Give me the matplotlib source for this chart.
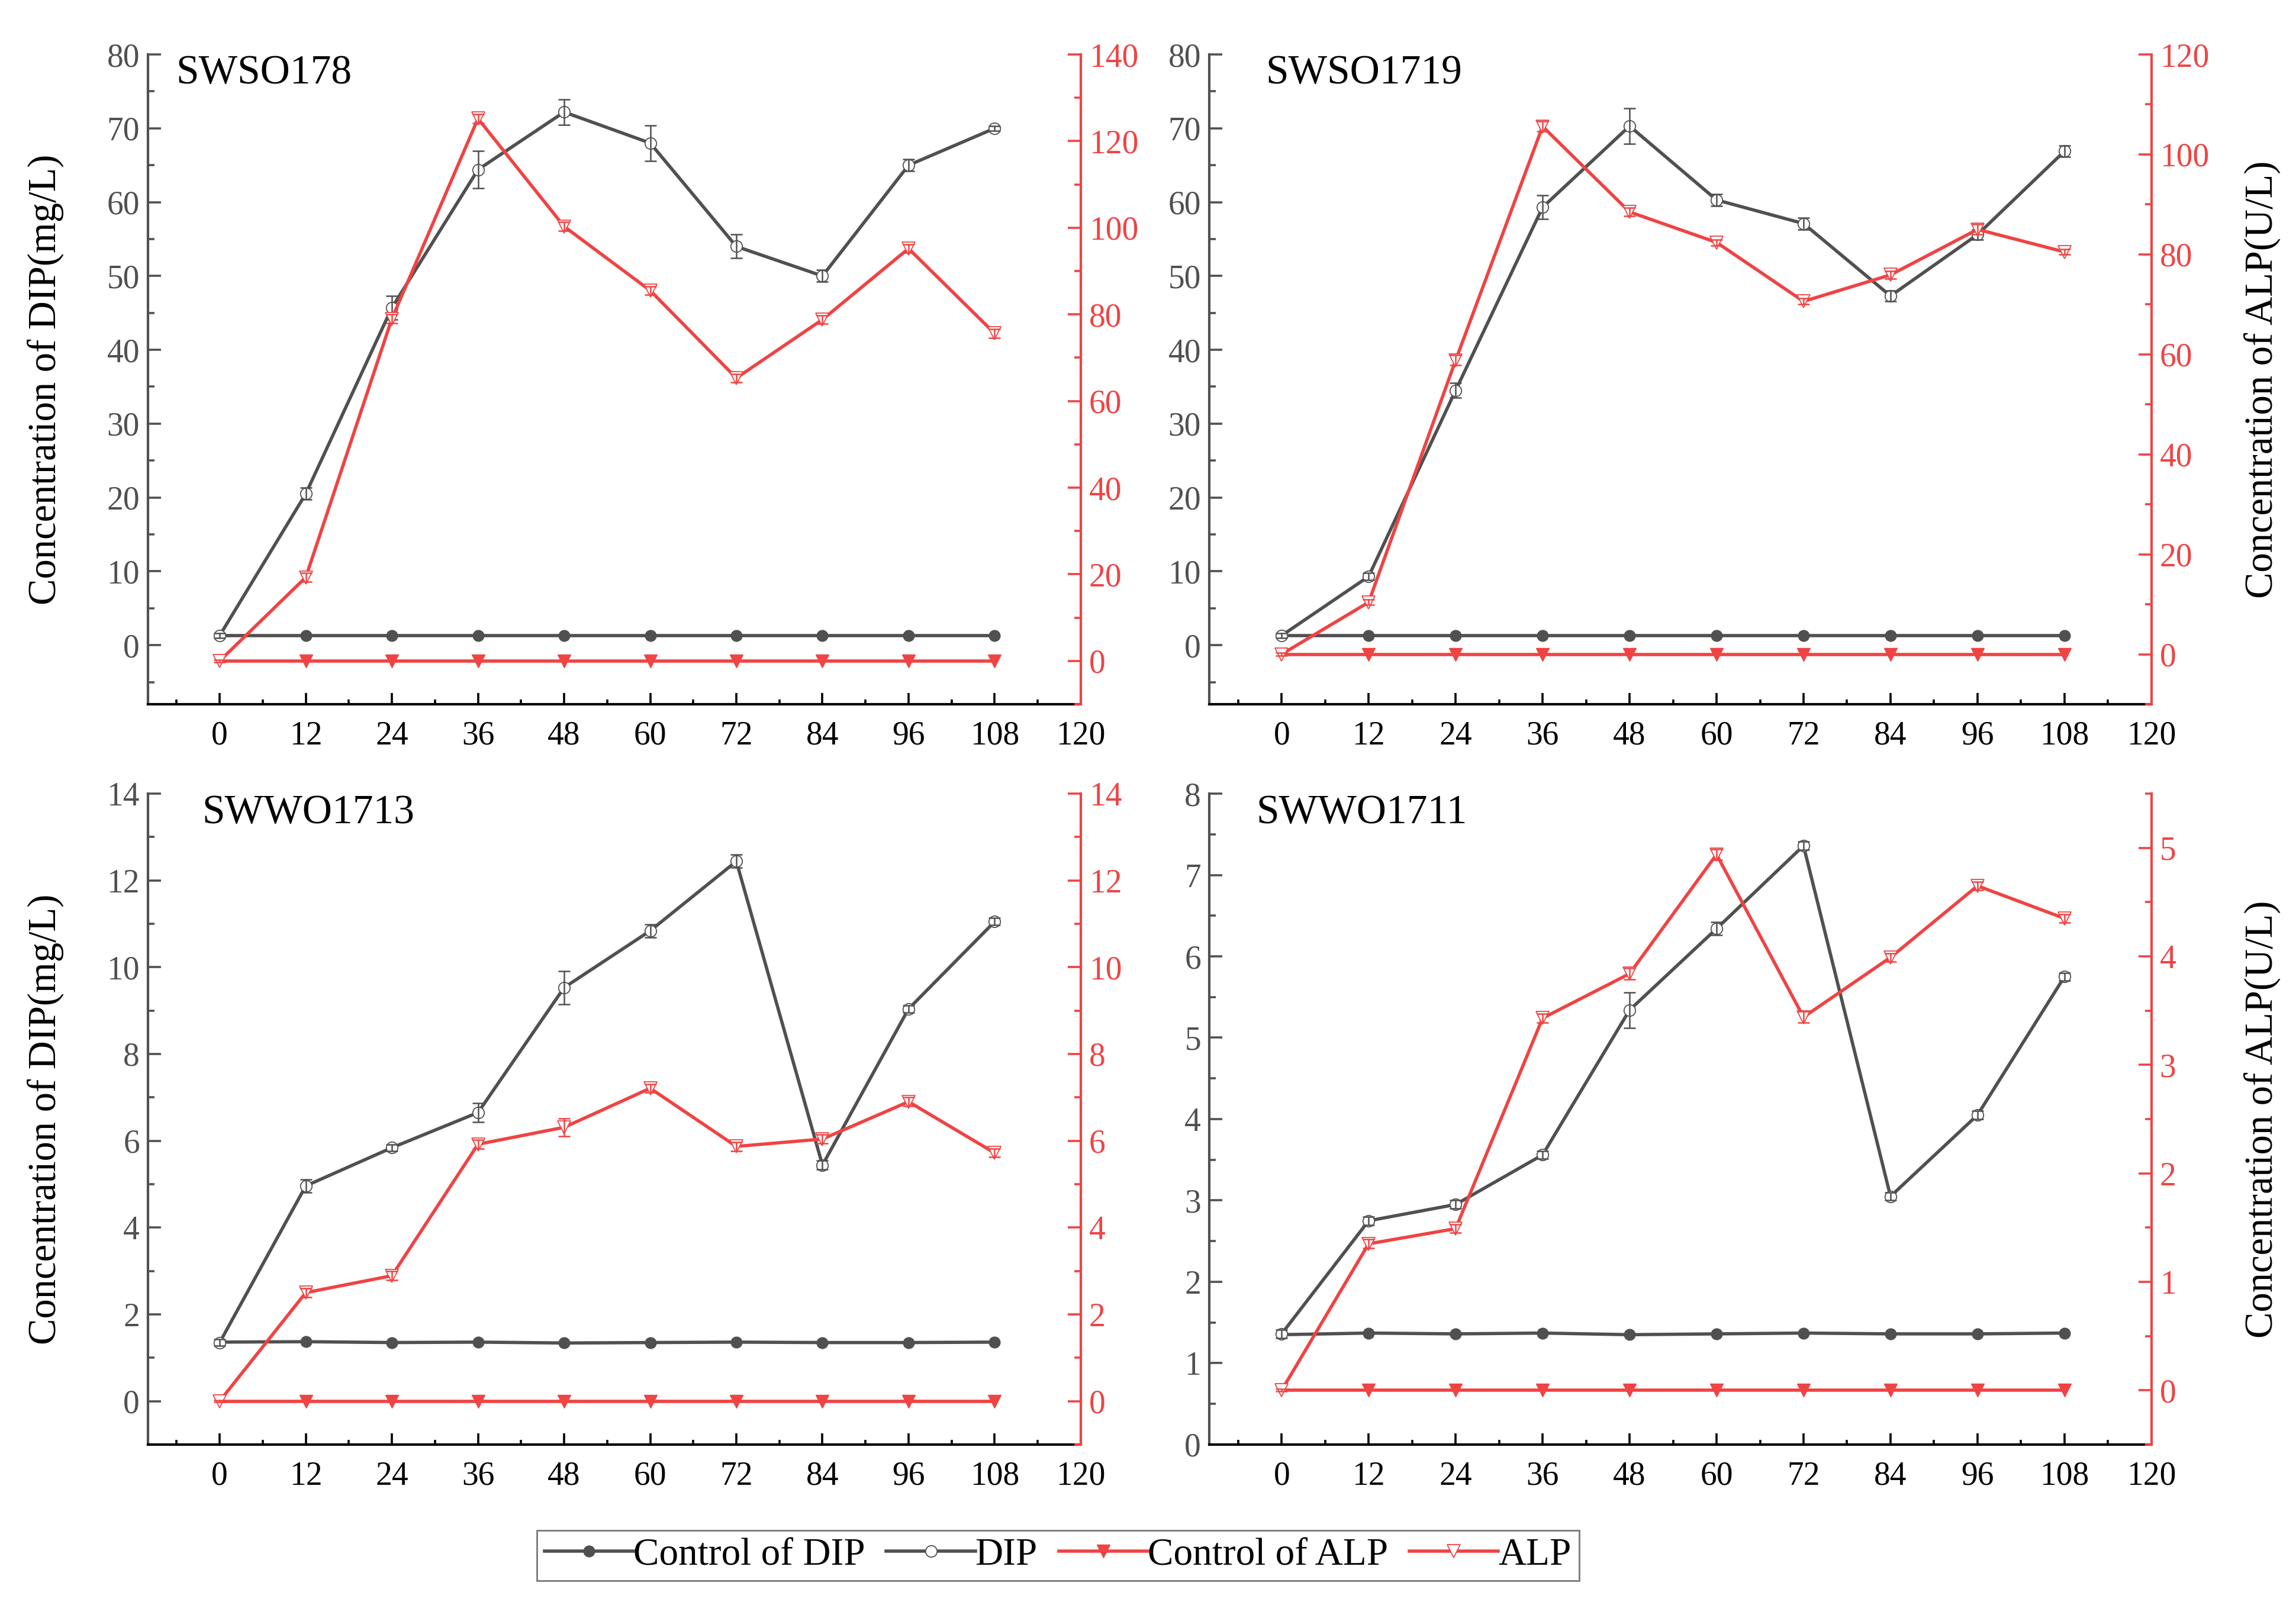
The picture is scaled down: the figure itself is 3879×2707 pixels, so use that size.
import matplotlib.pyplot as plt
from matplotlib.lines import Line2D
from matplotlib.ticker import MultipleLocator

plt.rcParams['font.family'] = ['Liberation Serif', 'DejaVu Serif']

HOURS = [0, 12, 24, 36, 48, 60, 72, 84, 96, 108]

# SWSO178
S178_CTRL_DIP = [1.3, 1.3, 1.3, 1.3, 1.3, 1.3, 1.3, 1.3, 1.3, 1.3]
S178_DIP = [1.3, 20.5, 45.7, 64.4, 72.2, 68.0, 54.0, 50.0, 65.0, 70.0]
S178_DIP_ERR = [0.3, 0.8, 1.6, 2.5, 1.7, 2.4, 1.6, 0.8, 0.8, 0.3]
S178_CTRL_ALP = [0, 0, 0, 0, 0, 0, 0, 0, 0, 0]
S178_ALP = [0.0, 19.3, 79.0, 125.2, 100.3, 85.5, 65.3, 78.8, 95.2, 75.6]
S178_ALP_ERR = [0.3, 1.0, 1.0, 1.0, 1.0, 1.0, 1.0, 1.0, 1.0, 1.0]

# SWSO1719
S1719_CTRL_DIP = [1.3, 1.3, 1.3, 1.3, 1.3, 1.3, 1.3, 1.3, 1.3, 1.3]
S1719_DIP = [1.3, 9.3, 34.5, 59.3, 70.3, 60.3, 57.1, 47.3, 55.6, 66.9]
S1719_DIP_ERR = [0.3, 0.5, 1.0, 1.6, 2.4, 0.8, 0.8, 0.7, 0.7, 0.8]
S1719_CTRL_ALP = [0, 0, 0, 0, 0, 0, 0, 0, 0, 0]
S1719_ALP = [0.0, 10.4, 58.8, 105.6, 88.5, 82.4, 70.6, 75.9, 85.0, 80.5]
S1719_ALP_ERR = [0.3, 0.5, 1.0, 1.0, 0.8, 0.6, 0.6, 0.8, 1.0, 0.5]

# SWWO1713
W1713_CTRL_DIP = [1.36, 1.37, 1.35, 1.36, 1.34, 1.35, 1.36, 1.35, 1.35, 1.36]
W1713_DIP = [1.35, 4.96, 5.84, 6.65, 9.53, 10.84, 12.44, 5.44, 9.04, 11.05]
W1713_DIP_ERR = [0.08, 0.15, 0.08, 0.22, 0.38, 0.15, 0.15, 0.1, 0.08, 0.08]
W1713_CTRL_ALP = [0, 0, 0, 0, 0, 0, 0, 0, 0, 0]
W1713_ALP = [0.0, 2.5, 2.89, 5.92, 6.31, 7.21, 5.87, 6.04, 6.9, 5.72]
W1713_ALP_ERR = [0.02, 0.1, 0.1, 0.1, 0.2, 0.1, 0.1, 0.1, 0.1, 0.1]

# SWWO1711
W1711_CTRL_DIP = [1.35, 1.37, 1.36, 1.37, 1.35, 1.36, 1.37, 1.36, 1.36, 1.37]
W1711_DIP = [1.36, 2.75, 2.95, 3.56, 5.34, 6.34, 7.36, 3.05, 4.05, 5.75]
W1711_DIP_ERR = [0.05, 0.05, 0.05, 0.05, 0.22, 0.08, 0.05, 0.05, 0.05, 0.05]
W1711_CTRL_ALP = [0, 0, 0, 0, 0, 0, 0, 0, 0, 0]
W1711_ALP = [0.0, 1.35, 1.49, 3.43, 3.84, 4.94, 3.44, 3.99, 4.65, 4.35]
W1711_ALP_ERR = [0.01, 0.04, 0.04, 0.04, 0.05, 0.05, 0.05, 0.04, 0.04, 0.04]

GRAY = '#505050'
RED = '#f04343'
DIP_LABEL = 'Concentration of DIP(mg/L)'
ALP_LABEL = 'Concentration of ALP(U/L)'
LW = 4.0


def style_axes(ax, ax2, lylim, lmaj, rylim, rmaj):
    ax.set_xlim(-10, 120)
    ax.xaxis.set_major_locator(MultipleLocator(12))
    ax.xaxis.set_minor_locator(MultipleLocator(6))
    ax.set_ylim(*lylim)
    ax.yaxis.set_major_locator(MultipleLocator(lmaj))
    ax.yaxis.set_minor_locator(MultipleLocator(lmaj / 2))
    ax2.set_ylim(*rylim)
    ax2.yaxis.set_major_locator(MultipleLocator(rmaj))
    ax2.yaxis.set_minor_locator(MultipleLocator(rmaj / 2))

    ax.spines['top'].set_visible(False)
    ax.spines['right'].set_visible(False)
    ax.spines['left'].set_color(GRAY)
    ax.spines['left'].set_linewidth(3.0)
    ax.spines['bottom'].set_color('black')
    ax.spines['bottom'].set_linewidth(3.0)
    for s in ['top', 'left', 'bottom']:
        ax2.spines[s].set_visible(False)
    ax2.spines['right'].set_color(RED)
    ax2.spines['right'].set_linewidth(3.0)

    ax.tick_params(axis='x', which='both', direction='in', colors='black',
                   labelsize=40, width=2.6, pad=20)
    ax.tick_params(axis='x', which='major', length=14)
    ax.tick_params(axis='x', which='minor', length=6)
    ax.tick_params(axis='y', which='both', direction='in', colors=GRAY,
                   labelsize=40, width=2.6, pad=10)
    ax.tick_params(axis='y', which='major', length=16)
    ax.tick_params(axis='y', which='minor', length=8)
    ax2.tick_params(axis='y', which='both', direction='in', colors=RED,
                    labelsize=40, width=2.6, pad=10)
    ax2.tick_params(axis='y', which='major', length=16)
    ax2.tick_params(axis='y', which='minor', length=8)


def draw_panel(pos, name, title_x, ctrl_dip, dip, dip_err, ctrl_alp, alp, alp_err,
               lylim, lmaj, rylim, rmaj, left_label, right_label):
    ax = fig.add_axes(pos)
    ax2 = ax.twinx()
    style_axes(ax, ax2, lylim, lmaj, rylim, rmaj)

    ax.plot(HOURS, ctrl_dip, '-', color=GRAY, lw=LW, marker='o', ms=13.5,
            mfc=GRAY, mec=GRAY, markevery=slice(1, None), zorder=2)
    ax.plot(HOURS, dip, '-', color=GRAY, lw=LW, marker='o', ms=14,
            mfc='white', mec=GRAY, mew=1.3, zorder=3)
    ax.errorbar(HOURS, dip, yerr=dip_err, fmt='none', ecolor=GRAY,
                elinewidth=1.8, capsize=7, capthick=1.8, zorder=4)

    ax2.plot(HOURS, ctrl_alp, '-', color=RED, lw=LW, marker='v', ms=16,
             mfc=RED, mec=RED, markevery=slice(1, None), zorder=2)
    ax2.plot(HOURS, alp, '-', color=RED, lw=LW, marker='v', ms=16,
             mfc='white', mec=RED, mew=1.3, zorder=3)
    ax2.errorbar(HOURS, alp, yerr=alp_err, fmt='none', ecolor=RED,
                 elinewidth=1.8, capsize=7, capthick=1.8, zorder=4)

    ax.text(title_x, 0.955, name, transform=ax.transAxes, fontsize=50,
            va='baseline', ha='left', color='black')

    if left_label:
        ax.set_ylabel(DIP_LABEL, fontsize=48, color='black')
        ax.yaxis.set_label_coords(-0.09, 0.5)
    if right_label:
        ax2.set_ylabel(ALP_LABEL, fontsize=48, color='black')
        ax2.yaxis.set_label_coords(1.098, 0.5)


fig = plt.figure(figsize=(38.8, 27.07), dpi=100)

draw_panel([0.0644, 0.5604, 0.4062, 0.4056], 'SWSO178', 0.03,
           S178_CTRL_DIP, S178_DIP, S178_DIP_ERR,
           S178_CTRL_ALP, S178_ALP, S178_ALP_ERR,
           (-8, 80), 10, (-10, 140), 20, True, False)
draw_panel([0.5265, 0.5604, 0.4103, 0.4056], 'SWSO1719', 0.06,
           S1719_CTRL_DIP, S1719_DIP, S1719_DIP_ERR,
           S1719_CTRL_ALP, S1719_ALP, S1719_ALP_ERR,
           (-8, 80), 10, (-10, 120), 20, False, True)
draw_panel([0.0644, 0.0983, 0.4062, 0.4063], 'SWWO1713', 0.058,
           W1713_CTRL_DIP, W1713_DIP, W1713_DIP_ERR,
           W1713_CTRL_ALP, W1713_ALP, W1713_ALP_ERR,
           (-1, 14), 2, (-1, 14), 2, True, False)
draw_panel([0.5265, 0.0983, 0.4103, 0.4063], 'SWWO1711', 0.05,
           W1711_CTRL_DIP, W1711_DIP, W1711_DIP_ERR,
           W1711_CTRL_ALP, W1711_ALP, W1711_ALP_ERR,
           (0, 8), 1, (-0.5, 5.5), 1, False, True)

# legend proxies, one marker in the middle of each handle
handles = [
    Line2D([], [], color=GRAY, lw=LW, marker='o', ms=13.5, mfc=GRAY, mec=GRAY),
    Line2D([], [], color=GRAY, lw=LW, marker='o', ms=14, mfc='white', mec=GRAY, mew=1.3),
    Line2D([], [], color=RED, lw=LW, marker='v', ms=16, mfc=RED, mec=RED),
    Line2D([], [], color=RED, lw=LW, marker='v', ms=16, mfc='white', mec=RED, mew=1.3),
]
labels = ['Control of DIP', 'DIP', 'Control of ALP', 'ALP']
leg = fig.legend(handles, labels, loc='center', bbox_to_anchor=(0.4606, 0.0290),
                 ncol=4, fontsize=47, frameon=True, fancybox=False,
                 edgecolor='#555555', handlelength=2.3, handletextpad=0.0,
                 columnspacing=0.55, borderpad=0.2, numpoints=1)
leg.get_frame().set_linewidth(2.0)

fig.savefig('out.png', dpi=100)
